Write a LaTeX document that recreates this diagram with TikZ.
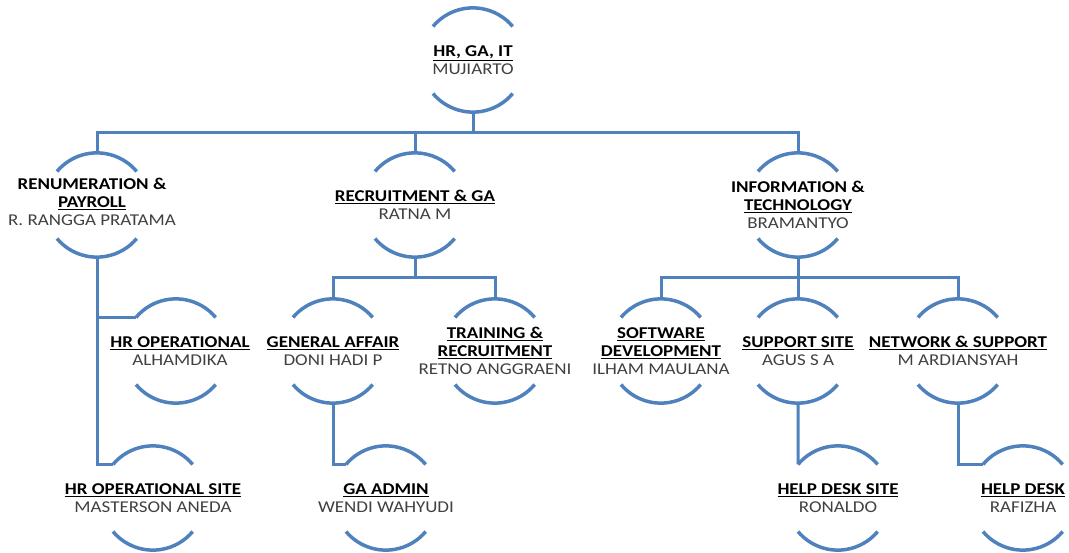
\documentclass[tikz,border=0pt]{standalone}
\usepackage{fontspec}
\setmainfont{Carlito}[FakeStretch=1.15]
\usetikzlibrary{calc}
\definecolor{obl}{HTML}{4F81BD}
\definecolor{nm}{HTML}{404040}
\newcommand\ttl[1]{\textcolor{black}{\textbf{#1}}}
\newcommand\ul[1]{\underline{#1}}
\tikzset{
  circ/.style={circle, minimum size=104pt, inner sep=0pt},
  lbl/.style={align=center, font=\fontsize{16.5}{18}\selectfont, text=nm, inner sep=0pt},
  arcline/.style={draw=obl, line width=3.5pt},
  conn/.style={draw=obl, line width=3pt}
}
\newcommand\orb[1]{%
  \draw[arcline] (#1.140) arc[start angle=140,end angle=40,radius=52pt];
  \draw[arcline] (#1.220) arc[start angle=220,end angle=320,radius=52pt];}
\begin{document}
\begin{tikzpicture}[x=1pt,y=1pt]
\useasboundingbox (0,0) rectangle (1069,-553);
% circles
\node[circ] (c0) at (473,-60) {};
\node[circ] (c1) at (97,-205) {};
\node[circ] (c2) at (415,-205) {};
\node[circ] (c3) at (798,-205) {};
\node[circ] (c11) at (176,-351) {};
\node[circ] (c12) at (153,-498) {};
\node[circ] (c21) at (333,-351) {};
\node[circ] (c22) at (495,-351) {};
\node[circ] (c211) at (386,-498) {};
\node[circ] (c31) at (661,-351) {};
\node[circ] (c32) at (798,-351) {};
\node[circ] (c33) at (958,-351) {};
\node[circ] (c321) at (838,-498) {};
\node[circ] (c331) at (1023,-498) {};
\foreach \n in {c0,c1,c2,c3,c11,c12,c21,c22,c211,c31,c32,c33,c321,c331}{\orb{\n}}
% junctions
\coordinate (j0) at (473,-133);
\coordinate (j2) at (415,-278);
\coordinate (j3) at (798,-278);
% connectors
\draw[conn] (c0.south) -- (j0);
\draw[conn] (j0) -| (c1.north);
\draw[conn] (j0) -- (c2.north |- j0) -- (c2.north);
\draw[conn] (j0) -| (c3.north);
\draw[conn] (c1.south) |- (c11.140);
\draw[conn] (c1.south) |- (c12.140);
\draw[conn] (c2.south) -- (j2);
\draw[conn] (j2) -| (c21.north);
\draw[conn] (j2) -| (c22.north);
\draw[conn] (c21.south) |- (c211.140);
\draw[conn] (c3.south) -- (j3);
\draw[conn] (j3) -| (c31.north);
\draw[conn] (j3) -- (c32.north);
\draw[conn] (j3) -| (c33.north);
\draw[conn] (c32.south) -- (c321.140);
\draw[conn] (c33.south) |- (c331.140);
% labels
\node[lbl] (t0) at (c0) {\ttl{\ul{HR, GA, IT}}\\MUJIARTO};
\node[lbl] (t1) at ($(c1)+(-5,3)$) {\ttl{RENUMERATION \&}\\\ttl{\ul{PAYROLL}}\\R. RANGGA PRATAMA};
\node[lbl] (t2) at (c2) {\ttl{\ul{RECRUITMENT \& GA}}\\RATNA M};
\node[lbl] (t3) at (c3) {\ttl{INFORMATION \&}\\\ttl{\ul{TECHNOLOGY}}\\BRAMANTYO};
\node[lbl] (t11) at ($(c11)+(4,0)$) {\ttl{\ul{HR OPERATIONAL}}\\ALHAMDIKA};
\node[lbl] (t12) at (c12) {\ttl{\ul{HR OPERATIONAL SITE}}\\MASTERSON ANEDA};
\node[lbl] (t21) at (c21) {\ttl{\ul{GENERAL AFFAIR}}\\DONI HADI P};
\node[lbl] (t22) at (c22) {\ttl{\ul{TRAINING \&}}\\\ttl{\ul{RECRUITMENT}}\\RETNO ANGGRAENI};
\node[lbl] (t211) at (c211) {\ttl{\ul{GA ADMIN}}\\WENDI WAHYUDI};
\node[lbl] (t31) at (c31) {\ttl{\ul{SOFTWARE}}\\\ttl{\ul{DEVELOPMENT}}\\ILHAM MAULANA};
\node[lbl] (t32) at (c32) {\ttl{\ul{SUPPORT SITE}}\\AGUS S A};
\node[lbl] (t33) at (c33) {\ttl{\ul{NETWORK \& SUPPORT}}\\M ARDIANSYAH};
\node[lbl] (t321) at (c321) {\ttl{\ul{HELP DESK SITE}}\\RONALDO};
\node[lbl] (t331) at (c331) {\ttl{\ul{HELP DESK}}\\RAFIZHA};
\end{tikzpicture}
\end{document}
